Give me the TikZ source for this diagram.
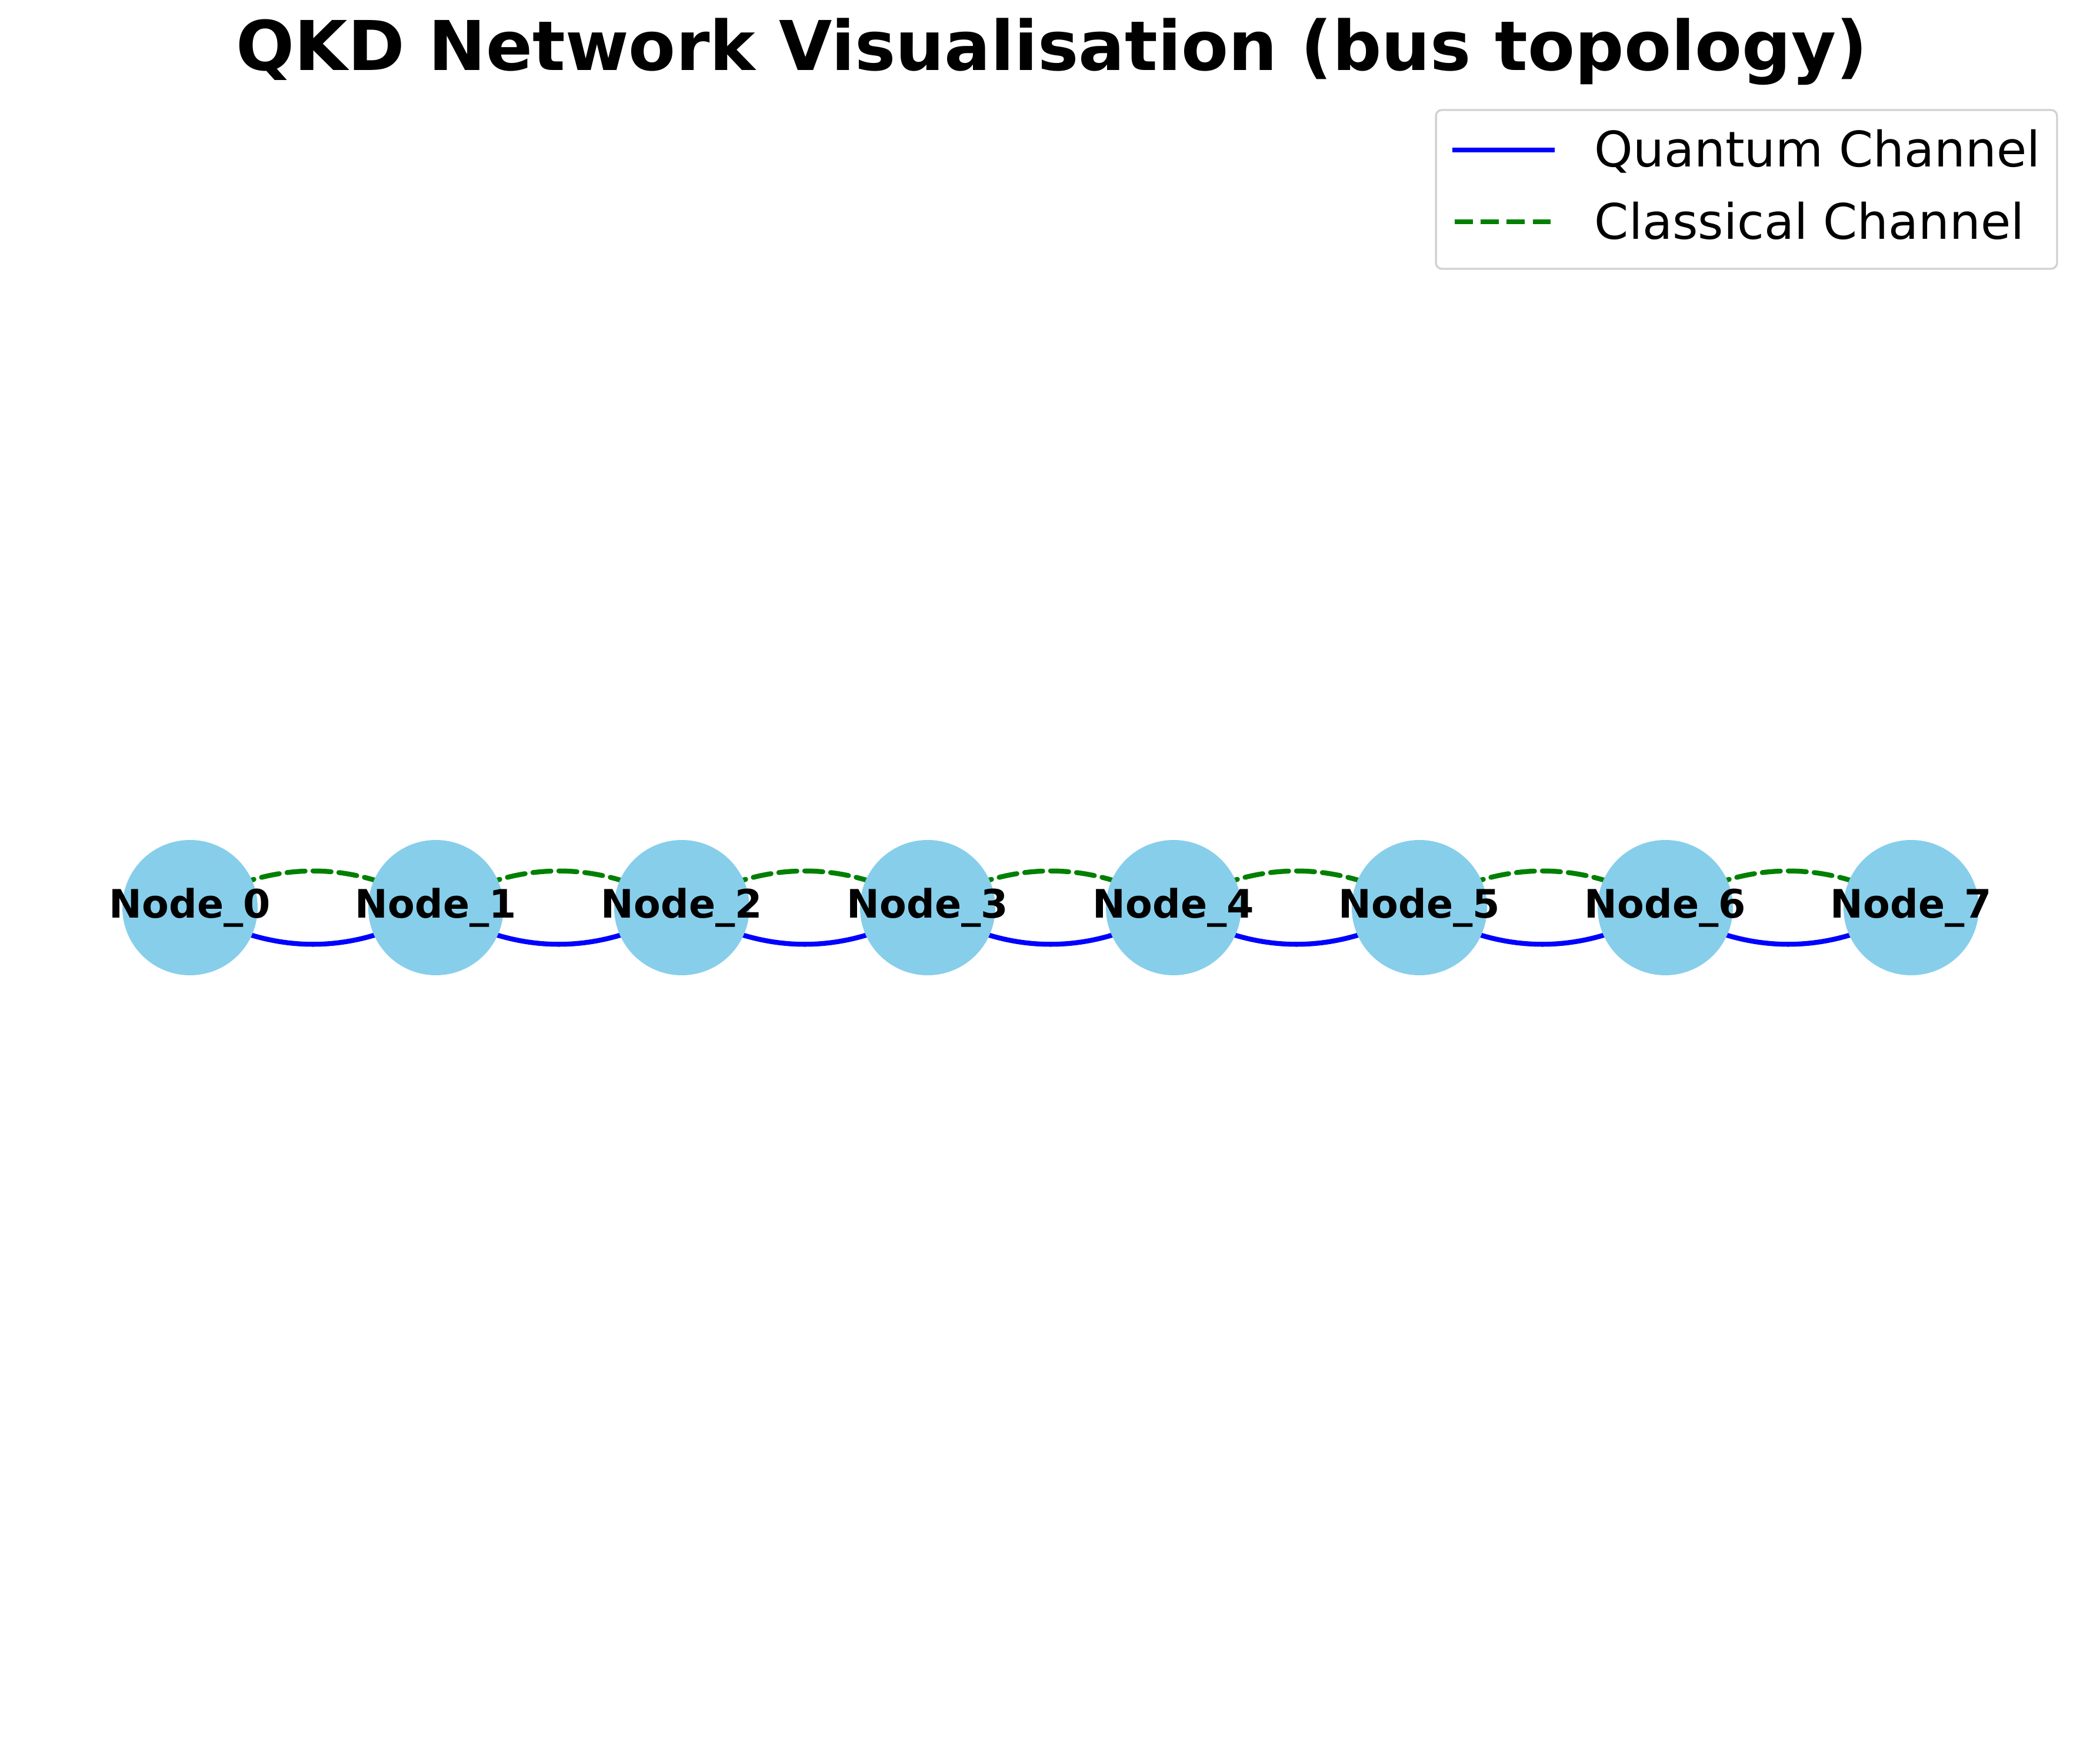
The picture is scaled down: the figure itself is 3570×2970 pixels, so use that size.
\documentclass[tikz,border=0pt]{standalone}
\usepackage{fontspec}
\setmainfont{DejaVu Sans}
\usetikzlibrary{positioning,backgrounds}
\definecolor{skyblue}{HTML}{87CEEB}
\definecolor{chgreen}{RGB}{0,128,0}

\begin{document}
\begin{tikzpicture}[x=0.24pt,y=-0.24pt,node distance=45.12pt,
      qnode/.style={circle,fill=skyblue,minimum size=55.2pt,inner sep=0pt,outer sep=0pt},
      qlabel/.style={font=\fontsize{16}{16}\selectfont\bfseries,inner sep=0pt},
      quantum/.style={draw=blue,line width=2pt},
      classical/.style={draw=chgreen,line width=2pt,dash pattern=on 7.4pt off 3.2pt},
      qarc/.style={bend right=31,looseness=0.99},
      carc/.style={bend left=31,looseness=0.99,line cap=round},
      legendbox/.style={draw=black!18,line width=0.8pt,fill=white,rounded corners=2.4pt,
        minimum width=253.4pt,minimum height=64.8pt},
      legendtext/.style={font=\fontsize{20}{20}\selectfont,inner sep=0pt,anchor=base west}
      ]
      \useasboundingbox (0,0) rectangle (3570,2970);
      \node (title) [font=\fontsize{28}{28}\selectfont\bfseries,inner sep=0pt,anchor=base]
        at (1788,120) {QKD Network Visualisation (bus topology)};

      \node (n0) [qnode,label={[qlabel]center:Node\_0}] at (323,1543) {};
      \node (n1) [qnode,label={[qlabel]center:Node\_1},right=of n0] {};
      \node (n2) [qnode,label={[qlabel]center:Node\_2},right=of n1] {};
      \node (n3) [qnode,label={[qlabel]center:Node\_3},right=of n2] {};
      \node (n4) [qnode,label={[qlabel]center:Node\_4},right=of n3] {};
      \node (n5) [qnode,label={[qlabel]center:Node\_5},right=of n4] {};
      \node (n6) [qnode,label={[qlabel]center:Node\_6},right=of n5] {};
      \node (n7) [qnode,label={[qlabel]center:Node\_7},right=of n6] {};

      % channels sit behind the nodes
      \begin{scope}[on background layer]
      \draw[quantum] (n0.center) to[qarc] (n1.center);
      \draw[classical,carc] (n0.center) to (n1.center);
      \draw[quantum] (n1.center) to[qarc] (n2.center);
      \draw[classical,carc] (n1.center) to (n2.center);
      \draw[quantum] (n2.center) to[qarc] (n3.center);
      \draw[classical,carc] (n2.center) to (n3.center);
      \draw[quantum] (n3.center) to[qarc] (n4.center);
      \draw[classical,carc] (n3.center) to (n4.center);
      \draw[quantum] (n4.center) to[qarc] (n5.center);
      \draw[classical,carc] (n4.center) to (n5.center);
      \draw[quantum] (n5.center) to[qarc] (n6.center);
      \draw[classical,carc] (n5.center) to (n6.center);
      \draw[quantum] (n6.center) to[qarc] (n7.center);
      \draw[classical,carc] (n6.center) to (n7.center);
      \end{scope}

      % legend
      \node (legend) [legendbox] at (2969,322) {};
      \coordinate (qa) at (2469,255);
      \coordinate (qb) at (2643,255);
      \coordinate (ca) at (2473,377);
      \coordinate (cb) at (2643,377);
      \draw[quantum] (qa) -- (qb);
      \draw[classical] (ca) -- (cb);
      \node (qtext) [legendtext] at (2710,284) {Quantum Channel};
      \node (ctext) [legendtext] at (2710,407) {Classical Channel};
    \end{tikzpicture}
\end{document}
